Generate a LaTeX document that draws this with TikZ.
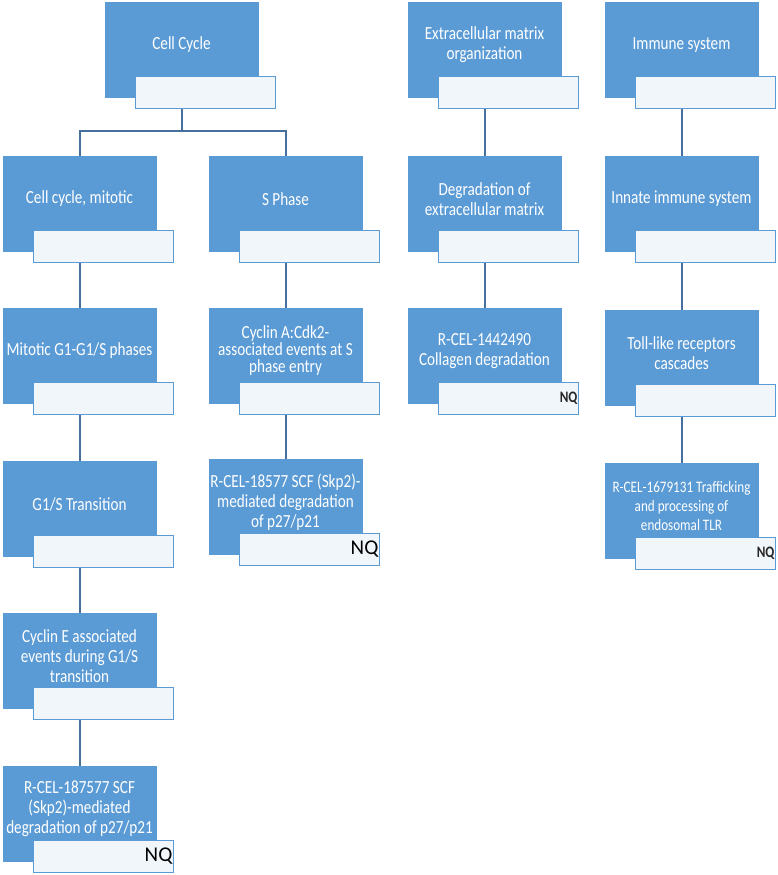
\documentclass[tikz,border=0pt]{standalone}
\usepackage{fontspec}
\setmainfont{Carlito}
\newfontfamily\boxfont[FakeStretch=0.82]{Carlito}
\usetikzlibrary{calc}
\definecolor{pblue}{RGB}{91,155,213}
\definecolor{lineblue}{RGB}{72,112,158}
\definecolor{wfill}{RGB}{241,246,251}
\tikzset{
  bluebox/.style={draw=pblue, fill=pblue, minimum width=153pt, minimum height=95pt, inner sep=0pt, anchor=north west},
  whitebox/.style={draw=pblue, line width=1.1pt, fill=wfill, minimum width=140pt, minimum height=32pt, inner sep=0pt, anchor=north west},
  boxtext/.style={text=white, font=\boxfont\fontsize{18.5}{20}\selectfont, align=center, inner sep=0pt},
  smalltext/.style={font=\boxfont\fontsize{16}{19}\selectfont},
  tighttext/.style={font=\boxfont\fontsize{18.5}{17}\selectfont},
  nqbig/.style={font=\fontsize{21}{21}\selectfont, text=black, anchor=east, inner sep=1.5pt},
  nqsmall/.style={font=\boxfont\bfseries\fontsize{16}{16}\selectfont, text=black!85, anchor=east, inner sep=1.5pt},
  conn/.style={draw=lineblue, line width=1.8pt}
}
\newcommand\pathbox[5]{%
  \node[bluebox] (#1) at (#2,#3) {};
  \node[whitebox] (#1w) at ({#2+30},{#3+74}) {};
  \node[boxtext,#5] (#1t) at ({#2+76.5},{#3+43}) {#4};
}
\begin{document}
\begin{tikzpicture}[x=1pt,y=-1pt]
\useasboundingbox (0,0) rectangle (778,875);
% column 1
\pathbox{cc}{105}{2}{Cell Cycle}{}
\pathbox{ccm}{3}{156}{Cell cycle, mitotic}{}
\pathbox{mg}{3}{308}{Mitotic G1-G1/S phases}{}
\pathbox{gs}{3}{461}{G1/S Transition}{}
\pathbox{ce}{3}{613}{Cyclin E associated\\events during G1/S\\transition}{}
\pathbox{ra}{3}{766}{R-CEL-187577 SCF\\(Skp2)-mediated\\degradation of p27/p21}{}
% column 2
\pathbox{sp}{209}{156}{S Phase}{}
\pathbox{ca}{209}{308}{Cyclin A:Cdk2-\\associated events at S\\phase entry}{tighttext}
\pathbox{rb}{209}{459}{R-CEL-18577 SCF (Skp2)-\\mediated degradation\\of p27/p21}{}
% column 3
\pathbox{em}{408}{2}{Extracellular matrix\\organization}{}
\pathbox{de}{408}{156}{Degradation of\\extracellular matrix}{}
\pathbox{rc}{408}{308}{R-CEL-1442490\\Collagen degradation}{}
% column 4
\pathbox{im}{605}{2}{Immune system}{}
\pathbox{ii}{605}{156}{Innate immune system}{}
\pathbox{tl}{605}{310}{Toll-like receptors\\cascades}{}
\pathbox{rd}{605}{463}{R-CEL-1679131 Trafficking\\and processing of\\endosomal TLR}{smalltext}
% NQ labels
\node[nqbig] (raq) at (raw.east) {NQ};
\node[nqbig] (rbq) at (rbw.east) {NQ};
\node[nqsmall] (rcq) at (rcw.east) {NQ};
\node[nqsmall] (rdq) at (rdw.east) {NQ};
% connectors
\coordinate (bar) at (0,131);
\draw[conn] (cc.south |- ccw.south) -- (cc.south |- bar);
\draw[conn] (ccm.north) -- (ccm.north |- bar) -- (sp.north |- bar) -- (sp.north);
\draw[conn] (ccm.south |- ccmw.south) -- (mg.north);
\draw[conn] (mg.south |- mgw.south) -- (gs.north);
\draw[conn] (gs.south |- gsw.south) -- (ce.north);
\draw[conn] (ce.south |- cew.south) -- (ra.north);
\draw[conn] (sp.south |- spw.south) -- (ca.north);
\draw[conn] (ca.south |- caw.south) -- (rb.north);
\draw[conn] (em.south |- emw.south) -- (de.north);
\draw[conn] (de.south |- dew.south) -- (rc.north);
\draw[conn] (im.south |- imw.south) -- (ii.north);
\draw[conn] (ii.south |- iiw.south) -- (tl.north);
\draw[conn] (tl.south |- tlw.south) -- (rd.north);
\end{tikzpicture}
\end{document}
